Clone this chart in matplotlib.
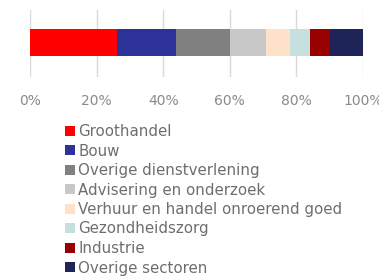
import matplotlib
matplotlib.use("Agg")
import matplotlib.pyplot as plt
from matplotlib.patches import Patch

categories = ["Groothandel", "Bouw", "Overige dienstverlening", "Advisering en onderzoek",
              "Verhuur en handel onroerend goed", "Gezondheidszorg", "Industrie", "Overige sectoren"]
values = [26.0, 17.8, 16.2, 10.8, 7.4, 6.0, 6.0, 9.8]
colors = ["#fe0000", "#2c3298", "#808080", "#c8c8c8", "#fde1c8", "#c6dfdf", "#990000", "#1e2458"]
xticks = [0, 20, 40, 60, 80, 100]
xtick_labels = ["0%", "20%", "40%", "60%", "80%", "100%"]

plt.rcParams['font.family'] = ['DejaVu Sans']
fig = plt.figure(figsize=(3.79, 2.79), dpi=100)
ax = fig.add_axes([30/379, 202/279, 333/379, 67/279])

left = 0
for v, c in zip(values, colors):
    ax.barh(0.515, v, left=left, height=0.403, color=c, zorder=3)
    left += v

ax.set_xlim(0, 100)
ax.set_ylim(0, 1)
ax.set_xticks(xticks)
ax.set_xticklabels(xtick_labels, color="#8a8a8a", fontsize=10)
ax.tick_params(axis="x", length=0, pad=12)
ax.set_yticks([])
ax.grid(axis="x", color="#d9d9d9", linewidth=1, zorder=0)
for s in ax.spines.values():
    s.set_visible(False)

handles = [Patch(facecolor=c, edgecolor="none") for c in colors]
leg = fig.legend(handles, categories, loc="upper left", bbox_to_anchor=(65/379, 1 - 124/279),
                 frameon=False, fontsize=10.8, handlelength=0.65, handleheight=0.65,
                 handletextpad=0.25, labelspacing=0.3, borderaxespad=0, borderpad=0,
                 labelcolor="#6e6e6e")

fig.savefig("out.png", dpi=100)
